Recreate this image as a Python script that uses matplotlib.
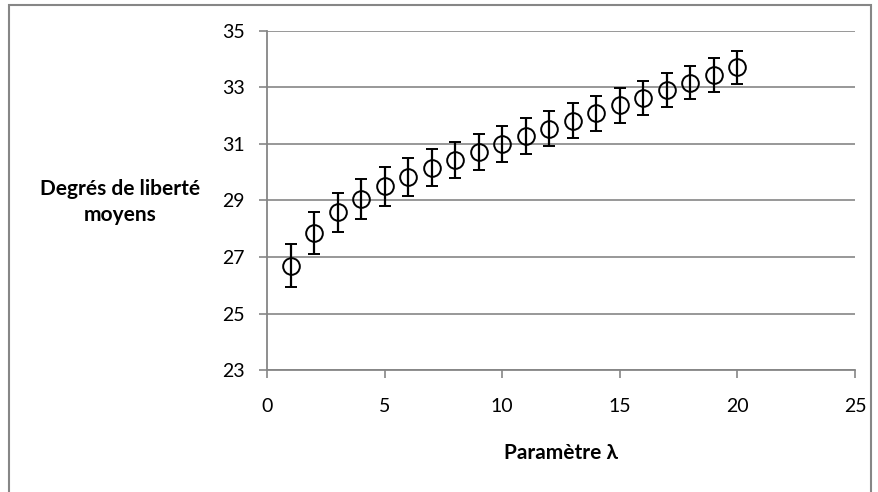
import numpy as np
import matplotlib
matplotlib.use("Agg")
import matplotlib.pyplot as plt
from matplotlib.patches import Rectangle

# mean degrees of freedom vs lambda, with error bars
lambdas = [1, 2, 3, 4, 5, 6, 7, 8, 9, 10,
           11, 12, 13, 14, 15, 16, 17, 18, 19, 20]
dof_mean = [26.70, 27.84, 28.58, 29.06, 29.50, 29.84, 30.16, 30.43, 30.72, 30.99,
            31.27, 31.53, 31.81, 32.08, 32.36, 32.63, 32.90, 33.16, 33.43, 33.70]
dof_err = [0.76, 0.74, 0.70, 0.70, 0.68, 0.67, 0.66, 0.65, 0.64, 0.64,
           0.63, 0.62, 0.62, 0.62, 0.61, 0.60, 0.60, 0.59, 0.60, 0.58]

x_ticks = [0, 5, 10, 15, 20, 25]
y_ticks = [23, 25, 27, 29, 31, 33, 35]

plt.rcParams['font.family'] = ['Lato', 'DejaVu Sans']
grey = '#868686'

fig = plt.figure(figsize=(8.79, 4.92), dpi=100)
ax = fig.add_axes([0.3038, 0.247, 0.6689, 0.691])

ax.errorbar(lambdas, dof_mean, yerr=dof_err, fmt='o', color='black',
            markerfacecolor='none', markeredgecolor='black', markersize=12,
            markeredgewidth=1.4, elinewidth=1.6, capsize=4, capthick=1.6,
            zorder=3)

ax.set_xlim(0, 25)
ax.set_ylim(23, 35)
ax.set_xticks(x_ticks)
ax.set_yticks(y_ticks)
ax.yaxis.grid(True, color=grey, linewidth=1.2)
ax.set_axisbelow(True)

for side in ['top', 'right']:
    ax.spines[side].set_visible(False)
for side in ['left', 'bottom']:
    ax.spines[side].set_color(grey)
    ax.spines[side].set_linewidth(1.3)

ax.tick_params(axis='both', colors=grey, width=1.2, length=6,
               labelcolor='black', labelsize=14)
ax.tick_params(axis='x', pad=14)
ax.tick_params(axis='y', pad=10)

ax.set_xlabel('Paramètre λ', fontsize=15, fontweight='bold', labelpad=20)
fig.text(120 / 879, 1 - 202 / 492, 'Degrés de liberté\nmoyens',
         ha='center', va='center', fontsize=15, fontweight='bold',
         linespacing=1.4)

# outer chart frame (bottom edge runs off the canvas)
fig.patches.append(Rectangle((9 / 879, -0.05), 862 / 879, 1.05 - 4.5 / 492,
                             transform=fig.transFigure, fill=False,
                             edgecolor=grey, linewidth=1.5))

fig.savefig('out.png', dpi=100)
